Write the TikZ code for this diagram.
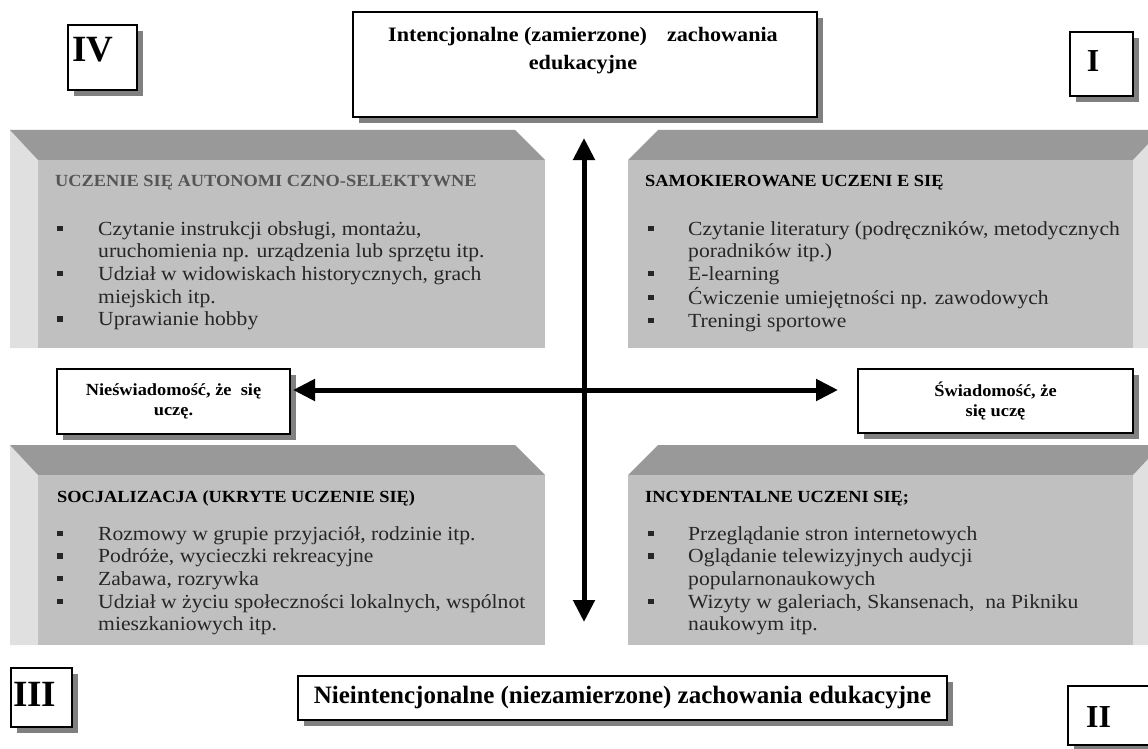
\documentclass[tikz,border=0pt]{standalone}
\usepackage{fontspec}
\setmainfont[FakeStretch=1.08]{Liberation Serif}
\newfontfamily\plainserif{Liberation Serif}
\usetikzlibrary{arrows.meta,shadows}

\definecolor{facegray}{HTML}{C0C0C0}
\definecolor{topgray}{HTML}{999999}
\definecolor{sidegray}{HTML}{E0E0E0}
\definecolor{headgray}{HTML}{555555}
\newcommand{\sqbul}{\rule[4pt]{5.5pt}{5.5pt}}

\begin{document}
\begin{tikzpicture}[x=1pt, y=-1pt,
    frame/.style={draw, line width=2.5pt, fill=white, inner sep=0pt,
      drop shadow={shadow xshift=6pt, shadow yshift=-6pt, fill=black!50, opacity=1}},
    numeral/.style={font=\plainserif\bfseries\fontsize{37}{37}\selectfont, inner sep=0pt, anchor=base west},
    head/.style={font=\bfseries\fontsize{17}{20}\selectfont, inner sep=0pt, anchor=base west},
    items/.style={font=\fontsize{20}{22.7}\selectfont, inner sep=0pt, anchor=base west, text=black!85},
    midtext/.style={align=center, font=\bfseries\fontsize{17}{20}\selectfont},
    axis/.style={line width=5pt, {Triangle[width=21pt,length=22pt]}-{Triangle[width=21pt,length=22pt]}}]
    \useasboundingbox (0,0) rectangle (1148,749);
    \clip (0,0) rectangle (1148,749);

    % bevelled panels, light strip on the left (IV, III)
    \foreach \t/\b in {130/348, 445/645} {
        \fill[sidegray] (10,\t) -- (38,\t+30) -- (38,\b) -- (10,\b) -- cycle;
        \fill[topgray] (10,\t) -- (515,\t) -- (545,\t+30) -- (38,\t+30) -- cycle;
        \fill[facegray] (38,\t+30) rectangle (545,\b);
    }
    % bevelled panels, light strip on the right (I, II)
    \foreach \t/\b in {130/348, 445/645} {
        \fill[sidegray] (1161,\t) -- (1133,\t+30) -- (1133,\b) -- (1161,\b) -- cycle;
        \fill[topgray] (658,\t) -- (1161,\t) -- (1133,\t+30) -- (628,\t+30) -- cycle;
        \fill[facegray] (628,\t+30) rectangle (1133,\b);
    }

    % quadrant numbers
    \node[frame, minimum width=69pt, minimum height=65pt] (boxIV) at (102.5,57.5) {};
    \node[numeral] (numIV) at (72,62) {IV};
    \node[frame, minimum width=63pt, minimum height=64pt] (boxI) at (1101.5,64) {};
    \node[numeral, font=\plainserif\bfseries\fontsize{32}{32}\selectfont, anchor=base] (numI) at (1093,72) {I};
    \node[frame, minimum width=61pt, minimum height=59pt] (boxIII) at (41.5,697.5) {};
    \node[numeral] (numIII) at (13,706) {III};
    \node[frame, minimum width=92pt, minimum height=59pt] (boxII) at (1114,715.5) {};
    \node[numeral, font=\plainserif\bfseries\fontsize{32}{32}\selectfont] (numII) at (1086,727) {II};

    % axis ends
    \node[frame, minimum width=464pt, minimum height=105pt] (intenc) at (585,64.5) {};
    \node[align=center, anchor=north, font=\bfseries\fontsize{20.5}{28}\selectfont] (intenctext) at (583,24)
        {Intencjonalne (zamierzone)\hspace{20pt}zachowania\\edukacyjne};
    \node[frame, minimum width=649pt, minimum height=44pt, font=\plainserif\bfseries\fontsize{25}{25}\selectfont] (nieint) at (622.5,698)
        {Nieintencjonalne (niezamierzone) zachowania edukacyjne};
    \node[frame, minimum width=233pt, minimum height=65pt, midtext] (niesw) at (173.5,401.5) {Nieświadomość, że\ \ się\\uczę.};
    \node[frame, minimum width=275pt, minimum height=64pt, midtext] (swiad) at (995.5,401) {Świadomość, że\\się uczę};

    % axes
    \coordinate (vtop) at (584,138);
    \coordinate (vbot) at (584,622);
    \coordinate (hleft) at (293,390);
    \coordinate (hright) at (838,390);
    \draw[axis] (hleft) -- (hright);
    \draw[axis] (vtop) -- (vbot);

    % panel texts
    \node[head, text=headgray] (headIV) at (55,186) {UCZENIE SIĘ AUTONOMI CZNO-SELEKTYWNE};
    \node[items] (listIV) at (57,235) {\begin{tabular}[t]{@{}p{41pt}@{}l@{}}
        \sqbul & Czytanie instrukcji obsługi, montażu,\\
               & uruchomienia np. urządzenia lub sprzętu itp.\\
        \sqbul & Udział w widowiskach historycznych, grach\\
               & miejskich itp.\\
        \sqbul & Uprawianie hobby
    \end{tabular}};
    \node[head] (headI) at (645,186) {SAMOKIEROWANE UCZENI E SIĘ};
    \node[items] (listI) at (648,235) {\begin{tabular}[t]{@{}p{40pt}@{}l@{}}
        \sqbul & Czytanie literatury (podręczników, metodycznych\\
               & poradników itp.)\\
        \sqbul & E-learning\\
        \sqbul & Ćwiczenie umiejętności np. zawodowych\\
        \sqbul & Treningi sportowe
    \end{tabular}};
    \node[head] (headIII) at (57,502) {SOCJALIZACJA (UKRYTE UCZENIE SIĘ)};
    \node[items] (listIII) at (57,540) {\begin{tabular}[t]{@{}p{41pt}@{}l@{}}
        \sqbul & Rozmowy w grupie przyjaciół, rodzinie itp.\\
        \sqbul & Podróże, wycieczki rekreacyjne\\
        \sqbul & Zabawa, rozrywka\\
        \sqbul & Udział w życiu społeczności lokalnych, wspólnot\\
               & mieszkaniowych itp.
    \end{tabular}};
    \node[head] (headII) at (645,502) {INCYDENTALNE UCZENI SIĘ;};
    \node[items] (listII) at (648,540) {\begin{tabular}[t]{@{}p{40pt}@{}l@{}}
        \sqbul & Przeglądanie stron internetowych\\
        \sqbul & Oglądanie telewizyjnych audycji\\
               & popularnonaukowych\\
        \sqbul & Wizyty w galeriach, Skansenach,\ \ na Pikniku\\
               & naukowym itp.
    \end{tabular}};
\end{tikzpicture}
\end{document}
